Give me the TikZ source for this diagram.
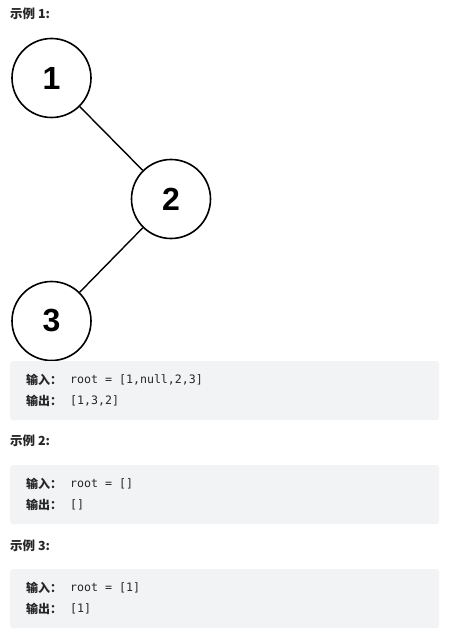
\documentclass[tikz,border=0pt]{standalone}
\usepackage{fontspec}
\setmainfont{Liberation Sans}
\newfontfamily\cjk{Noto Sans CJK SC}
\newfontfamily\digitfont{Liberation Sans}
\newfontfamily\monof{DejaVu Sans Mono}
\definecolor{boxbg}{HTML}{F2F3F5}
\definecolor{txt}{HTML}{262626}
\tikzset{
  treenode/.style={circle, draw=black, line width=1.6pt, minimum size=79pt, inner sep=0pt, font=\digitfont\bfseries\fontsize{32}{32}\selectfont},
  edge/.style={draw=black, line width=1.4pt},
  title/.style={anchor=west, inner sep=0pt, text=txt, font=\cjk\bfseries\fontsize{12.5}{13}\selectfont},
  codebox/.style={fill=boxbg, rounded corners=3pt, draw=none},
  label/.style={anchor=west, inner sep=0pt, text=txt, font=\cjk\bfseries\fontsize{12}{12}\selectfont},
  code/.style={anchor=west, inner sep=0pt, text=txt, font=\monof\fontsize{11.6}{12}\selectfont}
}
\begin{document}
\begin{tikzpicture}[x=1pt,y=-1pt]
\useasboundingbox (0,0) rectangle (448,639);
\fill[white] (0,0) rectangle (448,639);
% Example 1
\node[title] (t1) at (10,14) {示例 1:};
\node[treenode] (n1) at (51.5,78) {1};
\node[treenode] (n2) at (171,199) {2};
\node[treenode] (n3) at (51.5,321) {3};
\draw[edge] (n1) -- (n2);
\draw[edge] (n2) -- (n3);
\path[codebox] (10,361) rectangle (439,420);
\node[label] (i1) at (26,380) {输入：};
\node[code] (c1) at (70,380) {root = [1,null,2,3]};
\node[label] (o1) at (26,401) {输出：};
\node[code] (d1) at (70,401) {[1,3,2]};
% Example 2
\node[title] (t2) at (10,441) {示例 2:};
\path[codebox] (10,465) rectangle (439,524);
\node[label] (i2) at (26,484) {输入：};
\node[code] (c2) at (70,484) {root = []};
\node[label] (o2) at (26,505) {输出：};
\node[code] (d2) at (70,505) {[]};
% Example 3
\node[title] (t3) at (10,546) {示例 3:};
\path[codebox] (10,569) rectangle (439,628);
\node[label] (i3) at (26,588) {输入：};
\node[code] (c3) at (70,588) {root = [1]};
\node[label] (o3) at (26,609) {输出：};
\node[code] (d3) at (70,609) {[1]};
\end{tikzpicture}
\end{document}
